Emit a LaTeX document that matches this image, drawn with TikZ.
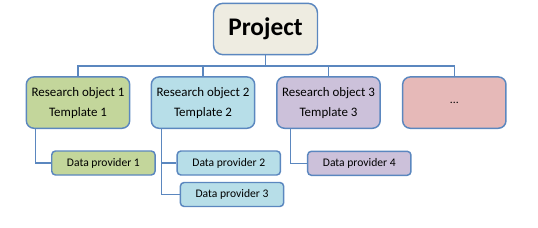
\documentclass[tikz,border=0pt]{standalone}
\usepackage{fontspec}
\setmainfont{Carlito}
\usepackage{xcolor}
\usetikzlibrary{positioning}
\definecolor{lineBlue}{HTML}{5B87BF}
\definecolor{cProject}{HTML}{EEECE1}
\definecolor{cGreen}{HTML}{C3D69B}
\definecolor{cBlue}{HTML}{B7DEE8}
\definecolor{cPurple}{HTML}{CCC1DA}
\definecolor{cRed}{HTML}{E6B9B8}
\tikzset{
  rootbox/.style={rectangle, rounded corners=2.5mm, draw=lineBlue, line width=1.1pt, fill=cProject, align=center, minimum width=78pt, minimum height=38.5pt, font=\fontsize{19}{22}\selectfont\bfseries},
  objbox/.style={rectangle, rounded corners=2mm, draw=lineBlue, line width=1.1pt, align=center, minimum width=77.5pt, minimum height=38.5pt, font=\fontsize{9.7}{15}\selectfont},
  dpbox/.style={rectangle, rounded corners=1mm, draw=lineBlue, line width=1.1pt, align=center, minimum width=77.5pt, minimum height=18pt, font=\fontsize{8.7}{10}\selectfont},
  link/.style={draw=lineBlue, line width=1pt}
}
\begin{document}
\begin{tikzpicture}[x=0.75pt, y=-0.75pt]
  \useasboundingbox (0,0) rectangle (538,228);
  \node[rootbox] (project) at (265.5,29) {Project};
  \node[objbox, fill=cGreen] (obj1) at (78,102.6) {Research object 1\\Template 1};
  \node[objbox, fill=cBlue] (obj2) at (203,102.6) {Research object 2\\Template 2};
  \node[objbox, fill=cPurple] (obj3) at (328.5,102.6) {Research object 3\\Template 3};
  \node[objbox, fill=cRed] (obj4) at (454.3,102.6) {\fontsize{8.7}{10}\selectfont ...};
  \node[dpbox, fill=cGreen] (dp1) at (103.4,163) {Data provider 1};
  \node[dpbox, fill=cBlue] (dp2) at (228.8,163) {Data provider 2};
  \node[dpbox, fill=cBlue] (dp3) at (232,194.5) {Data provider 3};
  \node[dpbox, fill=cPurple] (dp4) at (359.3,163.3) {Data provider 4};
  \coordinate (bus) at (0,66);
  % tree lines
  \draw[link] (project.south) -- (project.south |- bus);
  \draw[link] (obj1.north) -- (obj1.north |- bus) -- (obj4.north |- bus) -- (obj4.north);
  \draw[link] (obj2.north) -- (obj2.north |- bus);
  \draw[link] (obj3.north) -- (obj3.north |- bus);
  \draw[link] ([xshift=7.5pt]obj1.south west) |- (dp1.west);
  \draw[link] ([xshift=8pt]obj2.south west) |- (dp3.west);
  \draw[link] ([xshift=8pt]obj2.south west |- dp2.west) -- (dp2.west);
  \draw[link] ([xshift=11pt]obj3.south west) |- (dp4.west);
\end{tikzpicture}
\end{document}
